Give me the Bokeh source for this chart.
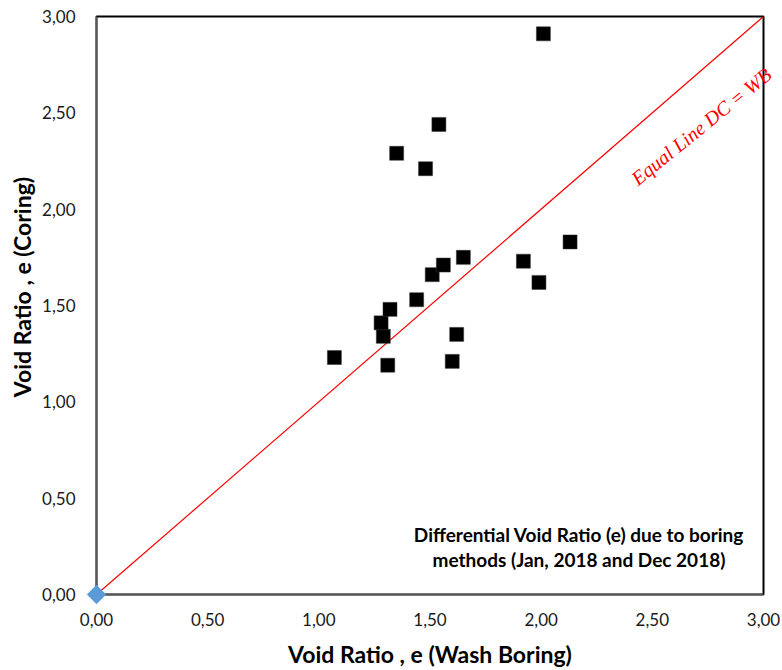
import math
from bokeh.plotting import figure
from bokeh.models import Range1d, FixedTicker, CustomJSTickFormatter, ColumnDataSource
from bokeh.core.properties import value
from bokeh.embed import file_html
from bokeh.resources import INLINE

# Data: void ratio from wash boring (x) vs coring (y)
wash_boring = [2.01, 1.54, 1.35, 1.48, 1.07, 1.31, 1.29, 1.28, 1.32, 1.44,
               1.51, 1.56, 1.65, 1.62, 1.60, 1.92, 1.99, 2.13]
coring = [2.91, 2.44, 2.29, 2.21, 1.23, 1.19, 1.34, 1.41, 1.48, 1.53,
          1.66, 1.71, 1.75, 1.35, 1.21, 1.73, 1.62, 1.83]
origin_x = [0.0]
origin_y = [0.0]
equal_line = [0.0, 3.0]
ticks = [0.0, 0.5, 1.0, 1.5, 2.0, 2.5, 3.0]
x_title = "Void Ratio , e (Wash Boring)"
y_title = "Void Ratio , e (Coring)"
line_label = "Equal Line DC = WB"
note_lines = ["Differential Void Ratio (e) due to boring",
              "methods (Jan, 2018 and Dec 2018)"]

FONT = "Lato"

p = figure(width=780, height=670, output_backend="svg", toolbar_location=None,
           x_range=Range1d(0, 3), y_range=Range1d(0, 3),
           min_border_left=96, min_border_top=16, min_border_right=17, min_border_bottom=75)
p.background_fill_color = "white"
p.border_fill_color = "white"
p.outline_line_color = "black"
p.outline_line_width = 2
p.xgrid.visible = False
p.ygrid.visible = False

fmt = CustomJSTickFormatter(code="return tick.toFixed(2).replace('.', ',');")
for ax in (p.xaxis[0], p.yaxis[0]):
    ax.ticker = FixedTicker(ticks=ticks)
    ax.formatter = fmt
    ax.major_tick_line_color = None
    ax.minor_tick_line_color = None
    ax.axis_line_color = "#595959"
    ax.axis_line_width = 1.5
    ax.major_label_text_font = FONT
    ax.major_label_text_font_size = "17px"
    ax.major_label_text_color = "#1a1a1a"
    ax.axis_label_text_font = FONT
    ax.axis_label_text_font_size = "23px"
    ax.axis_label_text_font_style = "bold"
    ax.axis_label_text_color = "black"

p.xaxis.axis_label = x_title
p.xaxis.major_label_standoff = 12
p.yaxis.major_label_standoff = 15
p.xaxis.axis_label_standoff = 11

# equal line
p.line(equal_line, equal_line, line_color="red", line_width=1.2)

# data points
p.scatter(wash_boring, coring, marker="square", size=14, fill_color="black",
          line_color="#333333", line_width=0.5)

# origin marker (diamond)
p.scatter(origin_x, origin_y, marker="square", angle=math.pi / 4, size=13,
          fill_color="#5B9BD5", line_color="#5B9BD5", level="overlay")

# label along equal line
p.text(x=[2.72], y=[2.43], text=[line_label], angle=0.68,
       text_font=value("Liberation Serif"), text_font_style="italic",
       text_font_size="20px", text_color="red",
       text_align="center", text_baseline="middle", level="overlay")

# y-axis title, placed slightly above the frame centre as in the original
p.text(x=[-0.333], y=[1.596], text=[y_title], angle=math.pi / 2,
       text_font=value(FONT), text_font_style="bold", text_font_size="23px",
       text_color="black", text_align="center", text_baseline="middle", level="overlay")

# note
note_src = ColumnDataSource(dict(x=[2.17, 2.17], y=[0.311, 0.181], t=note_lines))
p.text(x="x", y="y", text="t", source=note_src,
       text_font=value(FONT), text_font_style="bold", text_font_size="19px",
       text_color="black", text_align="center", text_baseline="middle")

open("out.html", "w").write(file_html(p, INLINE))
